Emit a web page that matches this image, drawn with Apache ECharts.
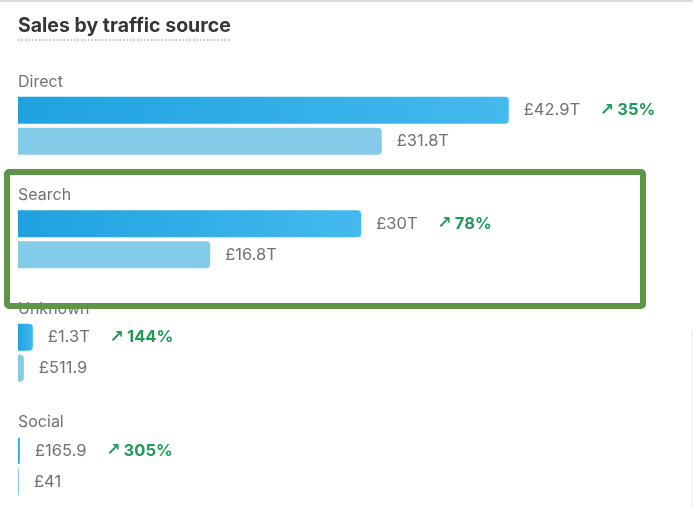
<!DOCTYPE html>
<html>
<head>
<meta charset="utf-8">
<script src="https://cdn.jsdelivr.net/npm/echarts@6/dist/echarts.min.js"></script>
<style>
  html, body { margin: 0; padding: 0; background: #fff; }
  #main { width: 693px; height: 507px; }
</style>
</head>
<body>
<div id="main"></div>
<script>
// traffic sources, values in trillions of pounds
var sources = ["Direct", "Search", "Unknown", "Social"];
var current = [42.9, 30, 1.3, 0.1659];
var previous = [31.8, 16.8, 0.5119, 0.041];
var currentText = ["£42.9T", "£30T", "£1.3T", "£165.9"];
var previousText = ["£31.8T", "£16.8T", "£511.9", "£41"];
var growth = ["35%", "78%", "144%", "305%"];

var grey = "#72707e", green = "#1f9a58";

var chart = echarts.init(document.getElementById("main"));
chart.setOption({
  animation: false,
  textStyle: {fontFamily: "Inter"},
  title: {
    text: "Sales by traffic source",
    left: 18, top: 16, padding: 0,
    textStyle: {fontFamily: "Inter", fontSize: 19.5, fontWeight: "bold", color: "#363636"}
  },
  grid: {left: 18, top: 69, width: 572, height: 454, outerBoundsMode: "none"},
  xAxis: {type: "value", min: 0, max: 50, show: false},
  yAxis: {
    type: "category", data: sources, inverse: true,
    axisLine: {show: false}, axisTick: {show: false},
    axisLabel: {
      inside: true, margin: 0, align: "left", verticalAlign: "bottom",
      padding: [0, 0, 36, 0],
      fontSize: 16, color: grey
    }
  },
  series: [{
    type: "bar", data: current, barWidth: 27, barGap: "15%", barMinHeight: 1,
    itemStyle: {
      borderRadius: [0, 4, 4, 0],
      color: new echarts.graphic.LinearGradient(0, 0, 1, 0, [
        {offset: 0, color: "#1fa2df"}, {offset: 1, color: "#44b9ee"}
      ])
    },
    label: {
      show: true, position: "right", distance: 15,
      formatter: function (p) {
        return "{v|" + currentText[p.dataIndex] + "}{a|↗}{p|" + growth[p.dataIndex] + "}";
      },
      rich: {
        v: {fontSize: 16.5, color: grey, fontFamily: "Inter"},
        a: {fontSize: 17, fontWeight: "bold", color: green, padding: [0, 3, 0, 20], fontFamily: "DejaVu Sans"},
        p: {fontSize: 16.5, fontWeight: "bold", color: green, fontFamily: "Inter"}
      }
    }
  }, {
    type: "bar", data: previous, barWidth: 27, barMinHeight: 1,
    itemStyle: {borderRadius: [0, 4, 4, 0], color: "#84cbea"},
    label: {
      show: true, position: "right", distance: 15, fontSize: 16.5, color: grey,
      formatter: function (p) { return previousText[p.dataIndex]; }
    }
  }],
  graphic: [
    {type: "line", shape: {x1: 0, y1: 1, x2: 693, y2: 1}, style: {stroke: "#dcdcdc", lineWidth: 2}},
    {type: "line", shape: {x1: 18, y1: 40, x2: 230, y2: 40}, style: {stroke: "#b0b0b0", lineWidth: 1.5, lineDash: [1.5, 2]}},
    {type: "line", shape: {x1: 692, y1: 330, x2: 692, y2: 507}, style: {stroke: "#ececec", lineWidth: 1}},
    {type: "rect", shape: {x: 7, y: 172, width: 636, height: 134, r: 2},
      style: {fill: null, stroke: "#5e9548", lineWidth: 6}, z: 100}
  ]
});
</script>
</body>
</html>
